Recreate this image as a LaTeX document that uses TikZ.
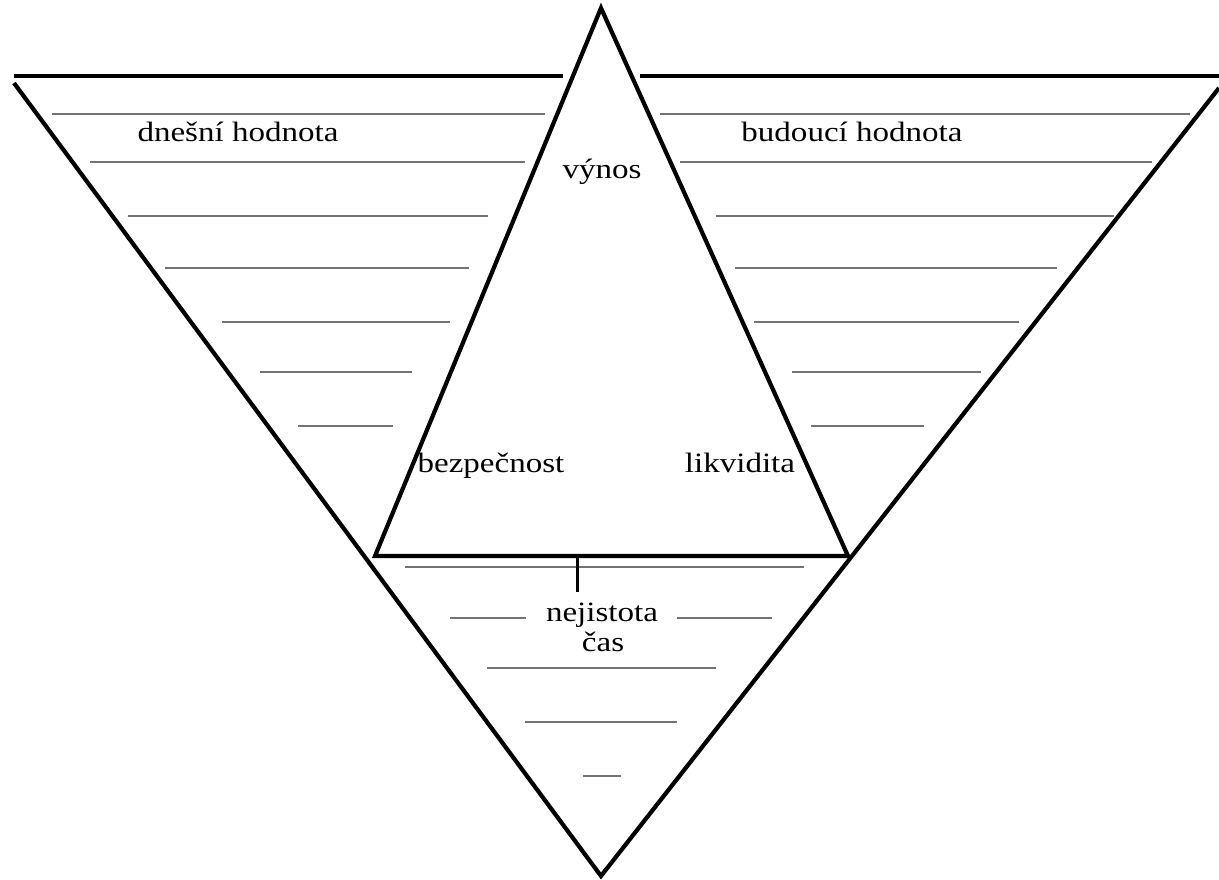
\documentclass[tikz,border=0pt]{standalone}
\usepackage{fontspec}
\setmainfont{Liberation Serif}
\newcommand{\widetxt}[1]{\scalebox{1.18}[1]{#1}}
\begin{document}
\begin{tikzpicture}[x=1pt,y=-1pt,
  edge/.style={line width=4.2pt,black},
  hatch/.style={line width=2pt,black!55},
  lbl/.style={font=\fontsize{28}{30}\selectfont,inner sep=0pt,anchor=base}]
\useasboundingbox (0,0) rectangle (1219,879);
% outer triangle
\coordinate (OL) at (14,83);
\coordinate (OR) at (1219,88);
\coordinate (OB) at (601,876);
\draw[edge] (14,76) -- (563,76);
\draw[edge] (640,76) -- (1219,76);
\draw[edge] (OL) -- (OB) -- (OR);
% inner triangle
\coordinate (IA) at (601,8);
\coordinate (IL) at (375,556);
\coordinate (IR) at (848,556);
\draw[edge,line join=miter] (IA) -- (IL) -- (IR) -- cycle;
% hatch lines left
\foreach \y/\a/\b in {114/52/545,162/90/525,216/128/488,268/165/469,322/222/450,372/260/412,426/298/393}
  \draw[hatch] (\a,\y) -- (\b,\y);
% hatch lines right
\foreach \y/\a/\b in {114/660/1190,162/680/1152,216/716/1114,268/735/1057,322/754/1019,372/792/981,426/811/924}
  \draw[hatch] (\a,\y) -- (\b,\y);
% hatch lines bottom
\foreach \y/\a/\b in {567/405/804,618/450/526,618/677/772,668/487/716,722/525/677,776/583/621}
  \draw[hatch] (\a,\y) -- (\b,\y);
% tick
\draw[line width=3pt] (577,557) -- (577,592);
% labels
\node[lbl] (dnes) at (238,141) {\widetxt{dnešní hodnota}};
\node[lbl] (bud) at (852,141) {\widetxt{budoucí hodnota}};
\node[lbl] (vyn) at (602,178) {\widetxt{výnos}};
\node[lbl] (bez) at (491,472) {\widetxt{bezpečnost}};
\node[lbl] (lik) at (740,472) {\widetxt{likvidita}};
\node[lbl] (nej) at (602,621) {\widetxt{nejistota}};
\node[lbl] (cas) at (603,651) {\widetxt{čas}};
\end{tikzpicture}
\end{document}
